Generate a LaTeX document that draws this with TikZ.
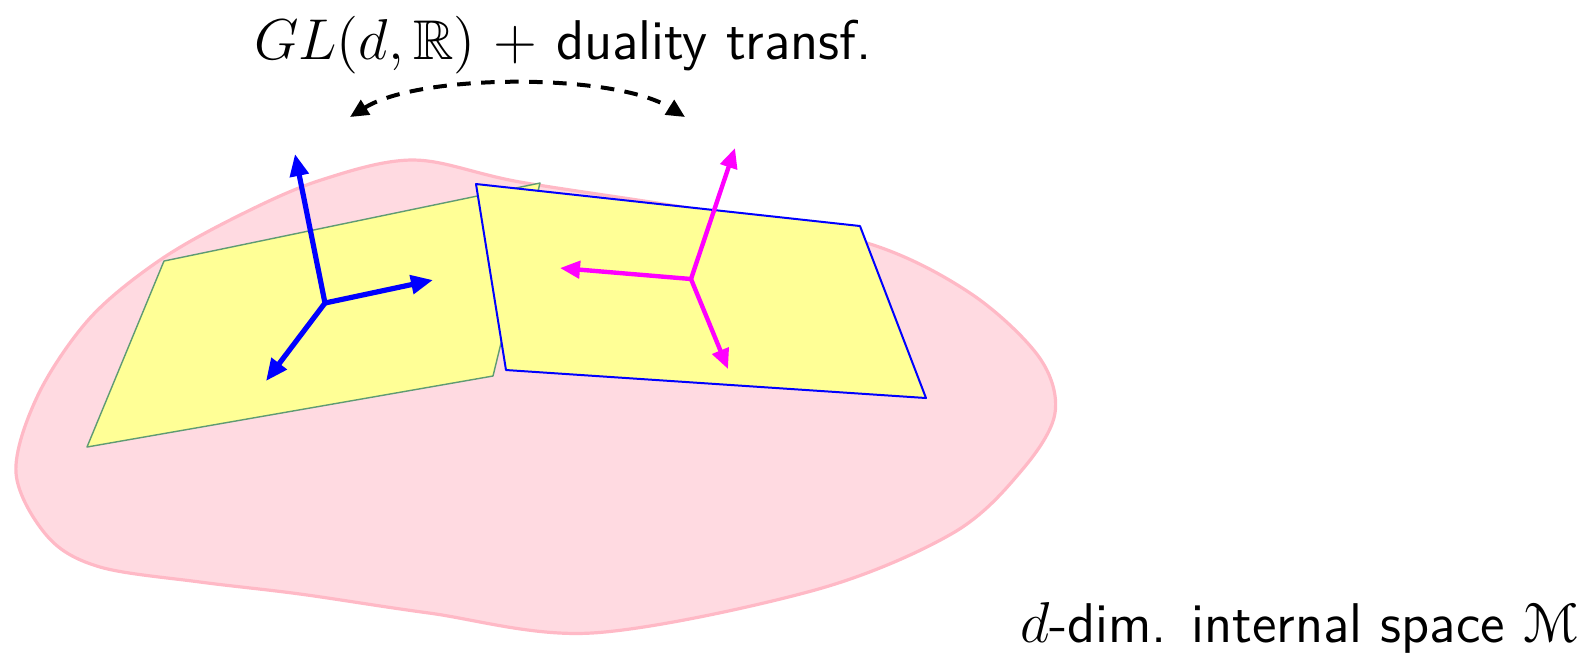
\documentclass[tikz,border=0pt]{standalone}
\usepackage{amsmath,amssymb}
\usepackage[mathcal]{eucal}
\usetikzlibrary{arrows.meta}
\definecolor{blobfill}{RGB}{255,218,225}
\definecolor{blobline}{RGB}{255,185,198}
\definecolor{planefill}{RGB}{255,255,150}
\definecolor{greenedge}{RGB}{95,155,115}
\definecolor{frameMag}{RGB}{255,0,255}
\tikzset{
  blob/.style={draw=blobline, fill=blobfill, line width=0.8pt},
  gplane/.style={draw=greenedge, fill=planefill, line width=0.35pt, line join=round},
  bplane/.style={draw=blue, fill=planefill, line width=0.5pt, line join=round},
  barrow/.style={draw=blue, line width=1.3pt, -{Triangle[length=5.5pt,width=4.6pt]}},
  marrow/.style={draw=frameMag, line width=1.1pt, -{Triangle[length=5pt,width=4.3pt]}},
  duality/.style={draw=black, line width=1pt, dash pattern=on 3.4pt off 2.6pt,
    {Triangle[length=4.6pt,width=4.2pt]}-{Triangle[length=4.6pt,width=4.2pt]}},
  lbl/.style={font=\fontsize{14}{16}\selectfont\sffamily, inner sep=0pt}
}
\begin{document}
\begin{tikzpicture}[x=0.25pt,y=-0.25pt]
\useasboundingbox (0,0) rectangle (1587,658);
% manifold
\draw[blob] plot[smooth cycle, tension=0.55] coordinates {
  (414,160) (520,182) (700,210) (867,243) (970,293) (1039,357) (1055,413)
  (1022,470) (953,533) (815,590) (592,633) (429,613) (300,594) (200,582)
  (100,567) (48,537) (16,473) (38,395) (90,318) (160,260) (240,215) (321,180)};
% left plane
\draw[gplane] (87,447) -- (164,261) -- (540,183) -- (493,376) -- cycle;
% blue frame
\coordinate (bo) at (325,303);
\coordinate (bu) at (295,154);
\coordinate (br) at (433,280);
\coordinate (bd) at (266,381);
\draw[barrow] (bo) -- (bu);
\draw[barrow] (bo) -- (br);
\draw[barrow] (bo) -- (bd);
% right plane
\draw[bplane] (476,184) -- (860,226) -- (926,398) -- (506,370) -- cycle;
% magenta frame
\coordinate (mo) at (691,279);
\coordinate (mu) at (735,148);
\coordinate (ml) at (560,268);
\coordinate (md) at (728,369);
\draw[marrow] (mo) -- (mu);
\draw[marrow] (mo) -- (ml);
\draw[marrow] (mo) -- (md);
% duality arrow
\coordinate (dl) at (350,117);
\coordinate (dr) at (685,117);
\draw[duality] (dl) .. controls (420,73) and (615,73) .. (dr);
% labels
\node[lbl, anchor=base] (title) at (563,59) {$GL(d,\mathbb{R})$ $+$ duality transf.};
\node[lbl, anchor=base east] (space) at (1579,642) {$d$-dim. internal space $\mathcal{M}$};
\end{tikzpicture}
\end{document}
